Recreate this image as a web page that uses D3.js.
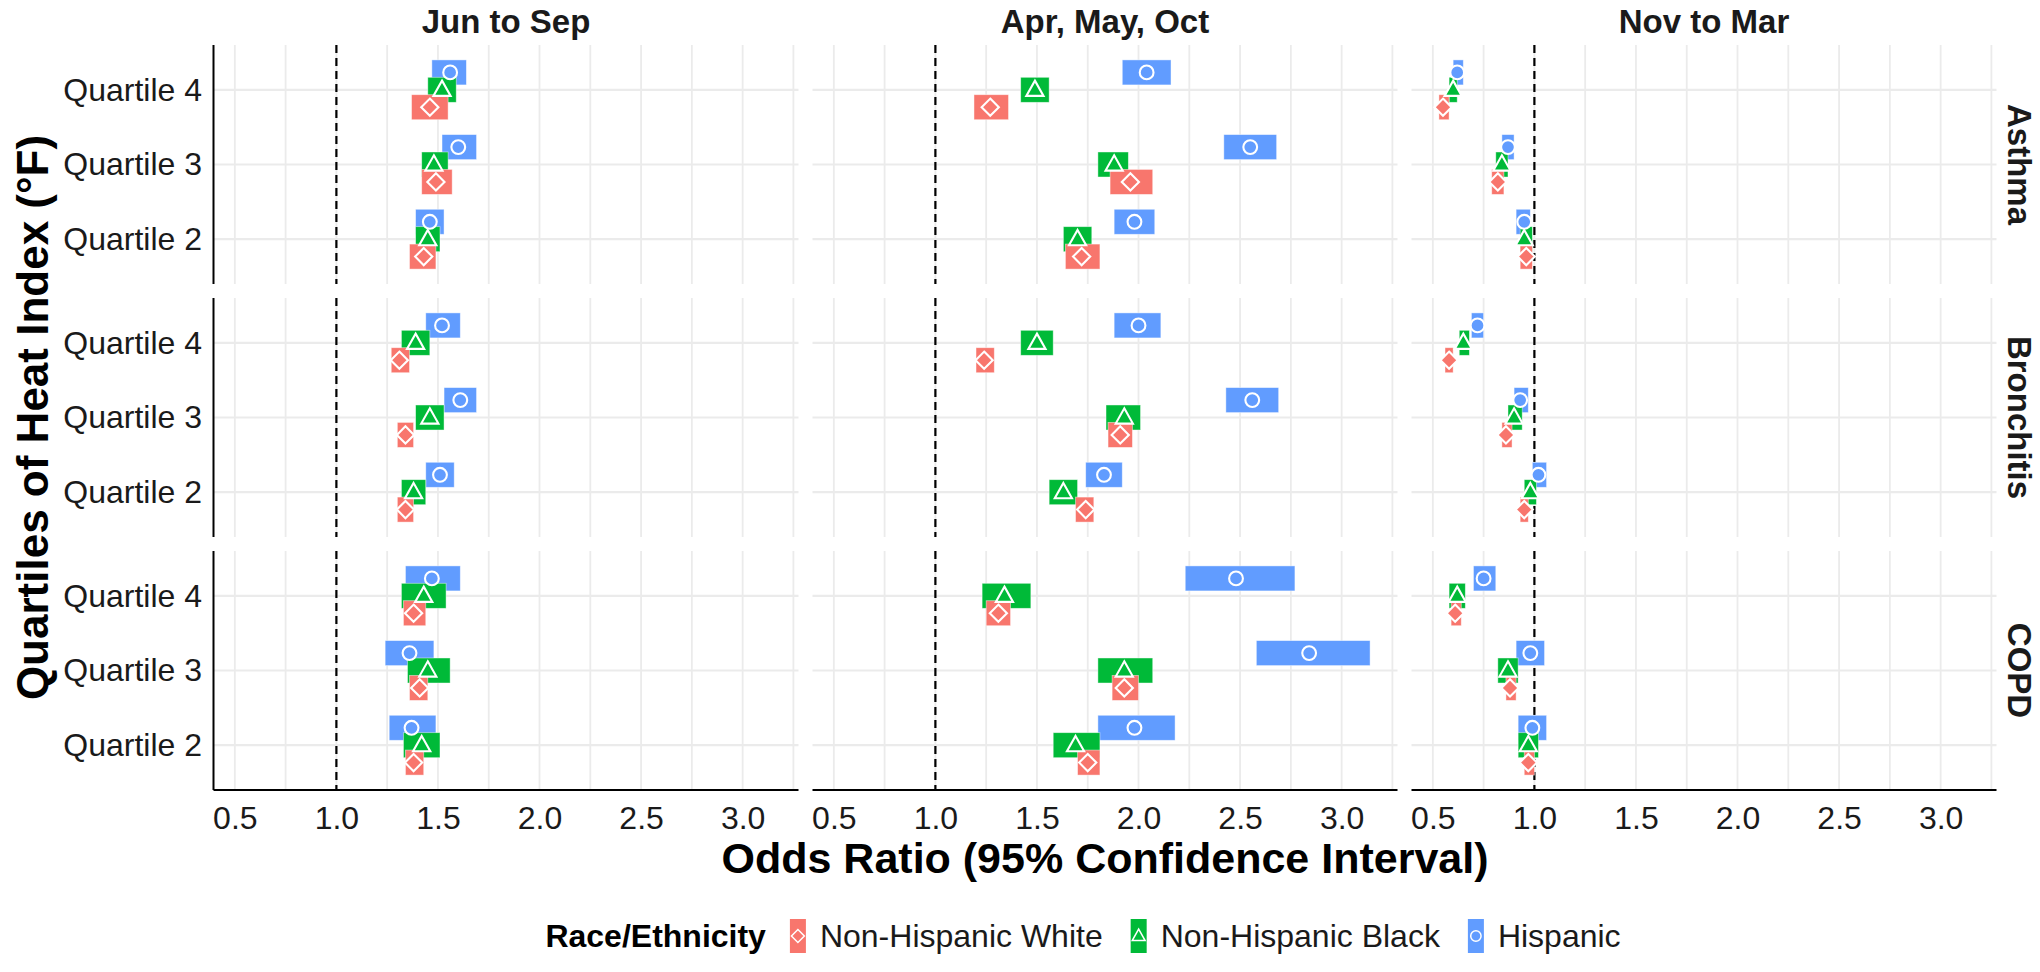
<!DOCTYPE html>
<html>
<head>
<meta charset="utf-8">
<script src="https://cdn.jsdelivr.net/npm/d3@7"></script>
<style>
  body { margin: 0; background: #fff; }
  svg text { font-family: "Liberation Sans", Arial, Helvetica, sans-serif; }
</style>
<title>Odds ratios by heat index quartile</title>
</head>
<body>
<div id="chart"></div>
<script>
// facets and categories
var seasons = ["Jun to Sep", "Apr, May, Oct", "Nov to Mar"];
var outcomes = ["Asthma", "Bronchitis", "COPD"];
var quartiles = ["Quartile 4", "Quartile 3", "Quartile 2"];
var races = ["Non-Hispanic White", "Non-Hispanic Black", "Hispanic"];
var xTicks = [0.5, 1.0, 1.5, 2.0, 2.5, 3.0];

// values ordered outcome > season > quartile (Q2, Q3, Q4)
var whiteOR = [1.43, 1.49, 1.46,  1.72, 1.96, 1.27,  0.96, 0.82, 0.55,
               1.34, 1.34, 1.31,  1.74, 1.91, 1.24,  0.95, 0.86, 0.58,
               1.38, 1.41, 1.38,  1.75, 1.93, 1.31,  0.97, 0.88, 0.61];
var whiteLo = [1.36, 1.42, 1.37,  1.64, 1.86, 1.19,  0.93, 0.79, 0.53,
               1.30, 1.30, 1.27,  1.69, 1.85, 1.20,  0.93, 0.84, 0.56,
               1.34, 1.36, 1.33,  1.70, 1.87, 1.25,  0.95, 0.86, 0.59];
var whiteHi = [1.49, 1.57, 1.55,  1.81, 2.07, 1.36,  0.99, 0.85, 0.58,
               1.38, 1.38, 1.36,  1.78, 1.97, 1.29,  0.97, 0.89, 0.60,
               1.43, 1.45, 1.44,  1.81, 2.00, 1.37,  1.00, 0.91, 0.64];

var blackOR = [1.45, 1.48, 1.52,  1.70, 1.88, 1.49,  0.95, 0.84, 0.60,
               1.38, 1.46, 1.39,  1.63, 1.93, 1.50,  0.98, 0.90, 0.65,
               1.42, 1.45, 1.43,  1.69, 1.93, 1.34,  0.97, 0.87, 0.62];
var blackLo = [1.39, 1.42, 1.45,  1.63, 1.80, 1.42,  0.93, 0.81, 0.58,
               1.32, 1.39, 1.32,  1.56, 1.84, 1.42,  0.95, 0.87, 0.63,
               1.33, 1.35, 1.32,  1.58, 1.80, 1.23,  0.92, 0.82, 0.58];
var blackHi = [1.51, 1.55, 1.59,  1.77, 1.95, 1.56,  0.99, 0.87, 0.62,
               1.44, 1.53, 1.46,  1.70, 2.01, 1.58,  1.01, 0.94, 0.68,
               1.51, 1.56, 1.54,  1.81, 2.07, 1.47,  1.02, 0.92, 0.66];

var hispOR = [1.46, 1.60, 1.56,  1.98, 2.55, 2.04,  0.95, 0.87, 0.62,
              1.51, 1.61, 1.52,  1.83, 2.56, 2.00,  1.02, 0.93, 0.72,
              1.37, 1.36, 1.47,  1.98, 2.84, 2.48,  0.99, 0.98, 0.75];
var hispLo = [1.39, 1.52, 1.47,  1.88, 2.42, 1.92,  0.91, 0.84, 0.60,
              1.44, 1.53, 1.44,  1.74, 2.43, 1.88,  0.99, 0.90, 0.69,
              1.26, 1.24, 1.34,  1.80, 2.58, 2.23,  0.92, 0.91, 0.70];
var hispHi = [1.53, 1.69, 1.64,  2.08, 2.68, 2.16,  0.98, 0.90, 0.65,
              1.58, 1.69, 1.61,  1.92, 2.69, 2.11,  1.06, 0.97, 0.75,
              1.49, 1.48, 1.61,  2.18, 3.14, 2.77,  1.06, 1.05, 0.81];

var colors = ["#F8766D", "#00BA38", "#619CFF"];
var quartOrder = ["Quartile 2", "Quartile 3", "Quartile 4"];

// flat table
var series = [[whiteOR, whiteLo, whiteHi], [blackOR, blackLo, blackHi], [hispOR, hispLo, hispHi]];
var rows = [];
outcomes.forEach(function(o, oi) {
  seasons.forEach(function(s, si) {
    quartOrder.forEach(function(q, qi) {
      var idx = oi * 9 + si * 3 + qi;
      races.forEach(function(r, ri) {
        rows.push({outcome: o, season: s, quartile: q, race: r,
          est: series[ri][0][idx], lo: series[ri][1][idx], hi: series[ri][2][idx]});
      });
    });
  });
});

var W = 2040, H = 972;
var colX = [213.5, 812.5, 1411.5], panelW = 585;
var rowY = [45, 298, 551], panelH = 239;
var font = '"Liberation Sans", Arial, Helvetica, sans-serif';

var svg = d3.select("#chart").append("svg").attr("width", W).attr("height", H);

var x = d3.scaleLinear().domain([0.395, 3.275]).range([0, panelW]);
var y = d3.scalePoint().domain(quartiles).range([0, panelH]).padding(0.6);
var step = y.step();
var dodge = d3.scalePoint().domain(races).range([0.233 * step, -0.233 * step]);
var color = d3.scaleOrdinal().domain(races).range(colors);
var barH = 0.335 * step;

var shapes = {
  "Non-Hispanic White": "M0,-8.6L8.6,0L0,8.6L-8.6,0Z",
  "Non-Hispanic Black": "M0,-9.2L8.6,6.1L-8.6,6.1Z",
  "Hispanic": d3.symbol(d3.symbolCircle, Math.PI * 6.9 * 6.9)()
};

var gridVals = d3.range(0.5, 3.26, 0.25);

outcomes.forEach(function(o, oi) {
  seasons.forEach(function(s, si) {
    var g = svg.append("g").attr("transform", "translate(" + colX[si] + "," + rowY[oi] + ")");

    g.selectAll("line.vg").data(gridVals).enter().append("line")
      .attr("x1", function(d) { return x(d); }).attr("x2", function(d) { return x(d); })
      .attr("y1", 0).attr("y2", panelH)
      .attr("stroke", "#EBEBEB").attr("stroke-width", 1.8);
    g.selectAll("line.hg").data(quartiles).enter().append("line")
      .attr("x1", 0).attr("x2", panelW)
      .attr("y1", function(d) { return y(d); }).attr("y2", function(d) { return y(d); })
      .attr("stroke", "#EBEBEB").attr("stroke-width", 2.2);

    g.append("line")
      .attr("x1", x(1)).attr("x2", x(1)).attr("y1", 0).attr("y2", panelH)
      .attr("stroke", "#000").attr("stroke-width", 2.2).attr("stroke-dasharray", "8,5");

    var cell = rows.filter(function(d) { return d.outcome === o && d.season === s; });
    var drawOrder = cell.slice().sort(function(a, b) { return races.indexOf(b.race) - races.indexOf(a.race); });

    g.selectAll("rect.ci").data(drawOrder).enter().append("rect")
      .attr("x", function(d) { return x(d.lo); })
      .attr("width", function(d) { return x(d.hi) - x(d.lo); })
      .attr("y", function(d) { return y(d.quartile) + dodge(d.race) - barH / 2; })
      .attr("height", barH)
      .attr("fill", function(d) { return color(d.race); })
      .attr("stroke", "rgba(255,255,255,0.55)").attr("stroke-width", 0.8);

    g.selectAll("path.pt").data(drawOrder).enter().append("path")
      .attr("d", function(d) { return shapes[d.race]; })
      .attr("transform", function(d) { return "translate(" + x(d.est) + "," + (y(d.quartile) + dodge(d.race)) + ")"; })
      .attr("fill", function(d) { return color(d.race); })
      .attr("stroke", "#fff").attr("stroke-width", 2.1);

    if (si === 0) {
      var ya = g.append("g").call(d3.axisLeft(y).tickSize(0).tickPadding(11.5));
      ya.select(".domain").remove();
      ya.selectAll("text").attr("font-size", 32).attr("fill", "#1a1a1a").attr("font-family", font);
      g.append("line").attr("x1", 0).attr("x2", 0).attr("y1", 0).attr("y2", panelH)
        .attr("stroke", "#000").attr("stroke-width", 2);
    }
    if (oi === outcomes.length - 1) {
      var xa = g.append("g").attr("transform", "translate(0," + panelH + ")")
        .call(d3.axisBottom(x).tickValues(xTicks).tickFormat(d3.format(".1f")).tickSize(0).tickPadding(16));
      xa.select(".domain").remove();
      xa.selectAll("text").attr("font-size", 32).attr("fill", "#1a1a1a").attr("font-family", font);
      g.append("line").attr("x1", 0).attr("x2", panelW).attr("y1", panelH).attr("y2", panelH)
        .attr("stroke", "#000").attr("stroke-width", 2);
    }
  });
});

// strip labels
seasons.forEach(function(s, si) {
  svg.append("text").attr("x", colX[si] + panelW / 2).attr("y", 33)
    .attr("text-anchor", "middle").attr("font-size", 33).attr("font-weight", "bold")
    .attr("fill", "#1a1a1a").text(s);
});
outcomes.forEach(function(o, oi) {
  var cy = rowY[oi] + panelH / 2;
  svg.append("text").attr("transform", "translate(2008," + cy + ") rotate(90)")
    .attr("text-anchor", "middle").attr("font-size", 33).attr("font-weight", "bold")
    .attr("fill", "#1a1a1a").text(o);
});

// axis titles
var plotMid = (colX[0] + colX[2] + panelW) / 2;
svg.append("text").attr("x", plotMid).attr("y", 873)
  .attr("text-anchor", "middle").attr("font-size", 43).attr("font-weight", "bold")
  .attr("fill", "#000").text("Odds Ratio (95% Confidence Interval)");
svg.append("text").attr("transform", "translate(48," + (rowY[0] + (rowY[2] + panelH - rowY[0]) / 2) + ") rotate(-90)")
  .attr("text-anchor", "middle").attr("font-size", 44).attr("font-weight", "bold")
  .attr("fill", "#000").text("Quartiles of Heat Index (°F)");

// legend
var lg = svg.append("g");
var ly = 936;
var title = lg.append("text").attr("y", ly).attr("dy", "0.35em")
  .attr("font-size", 32).attr("font-weight", "bold").attr("fill", "#000").text("Race/Ethnicity");
var cx = title.node().getComputedTextLength() + 24;
races.forEach(function(r) {
  lg.append("rect").attr("x", cx).attr("y", ly - 17).attr("width", 16).attr("height", 34)
    .attr("fill", color(r));
  lg.append("path").attr("d", shapes[r]).attr("transform", "translate(" + (cx + 8) + "," + ly + ") scale(0.75)")
    .attr("fill", color(r)).attr("stroke", "#fff").attr("stroke-width", 2);
  cx += 16 + 14;
  var t = lg.append("text").attr("x", cx).attr("y", ly).attr("dy", "0.35em")
    .attr("font-size", 32).attr("fill", "#1a1a1a").text(r);
  cx += t.node().getComputedTextLength() + 28;
});
cx -= 28;
lg.attr("transform", "translate(" + (plotMid - 22 - cx / 2) + ",0)");
</script>
</body>
</html>
